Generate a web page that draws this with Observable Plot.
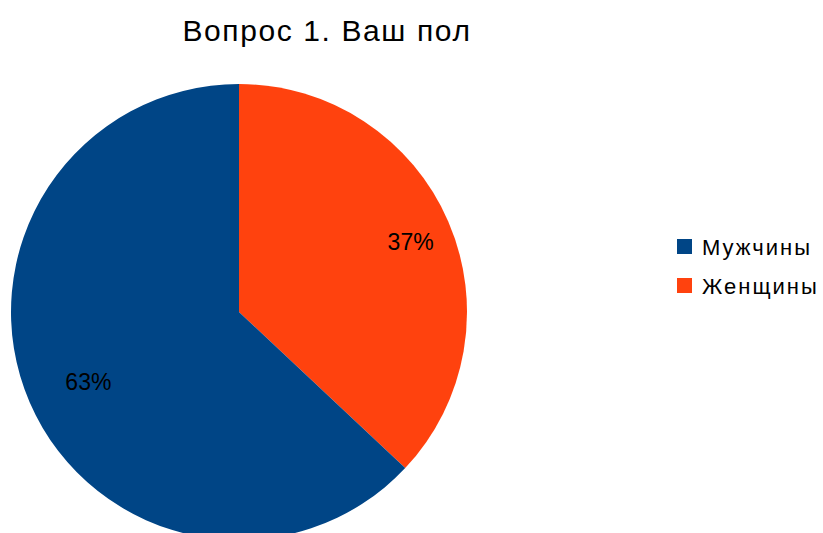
<!DOCTYPE html>
<html>
<head>
<meta charset="utf-8">
<script src="https://cdn.jsdelivr.net/npm/d3@7"></script>
<script src="https://cdn.jsdelivr.net/npm/@observablehq/plot@0.6"></script>
<style>
  html, body { margin: 0; padding: 0; background: #fff; }
  #wrap { position: relative; width: 823px; height: 533px; overflow: hidden; font-family: "Liberation Sans", Arial, sans-serif; }
  #wrap svg { position: absolute; left: 0; top: 0; }
  #title { position: absolute; left: 0; width: 654px; top: 14px; text-align: center; font-size: 30px; line-height: 1.149; letter-spacing: 1.6px; color: #000; }
  #legend { position: absolute; left: 677px; top: 228px; font-size: 22px; letter-spacing: 2px; color: #000; }
  .item { display: flex; align-items: center; height: 39px; white-space: nowrap; }
  .sw { width: 15px; height: 15px; margin-right: 10px; margin-top: -3px; flex: none; }
</style>
</head>
<body>
<div id="wrap">
  <div id="title">Вопрос 1. Ваш пол</div>
  <div id="legend"></div>
</div>
<script>
const categories = ["Мужчины", "Женщины"];
const values = [63, 37];
const labels = ["63%", "37%"];
const colors = ["#004586", "#ff420e"];

// Pie slices: Женщины starts at 12 o'clock going clockwise, then Мужчины
const order = [1, 0];
const total = d3.sum(values);
let acc = 0;
const slices = order.map(i => {
  const a0 = acc / total * 2 * Math.PI;
  acc += values[i];
  const a1 = acc / total * 2 * Math.PI;
  return {cat: categories[i], value: values[i], label: labels[i], a0, a1, mid: (a0 + a1) / 2};
});
const labelR = 0.77;
slices.forEach(s => { s.lx = labelR * Math.sin(s.mid); s.ly = labelR * Math.cos(s.mid); });

function pieMark(index, scales, values, dimensions, context) {
  const cx = scales.x(0), cy = scales.y(0);
  const r = Math.abs(scales.x(1) - scales.x(0));
  const arc = d3.arc().innerRadius(0).outerRadius(r);
  const g = d3.create("svg:g").attr("transform", `translate(${cx},${cy})`);
  g.selectAll("path").data(slices).join("path")
    .attr("d", d => arc({startAngle: d.a0, endAngle: d.a1}))
    .attr("fill", d => scales.color(d.cat));
  return g.node();
}

const plot = Plot.plot({
  width: 823,
  height: 533,
  margin: 0,
  x: {domain: [-1, 1], range: [11, 467], axis: null},
  y: {domain: [-1, 1], range: [540, 84], axis: null},
  color: {domain: categories, range: colors},
  style: {fontFamily: "Liberation Sans, Arial, sans-serif", background: "white"},
  marks: [
    pieMark,
    Plot.text(slices, {x: "lx", y: "ly", text: "label", fontSize: 23, dx: 10, fill: "#000"})
  ]
});
document.getElementById("wrap").prepend(plot);

const legend = document.getElementById("legend");
categories.forEach((c, i) => {
  const it = document.createElement("div");
  it.className = "item";
  it.innerHTML = `<div class="sw" style="background:${colors[i]}"></div><span>${c}</span>`;
  legend.appendChild(it);
});
</script>
</body>
</html>
